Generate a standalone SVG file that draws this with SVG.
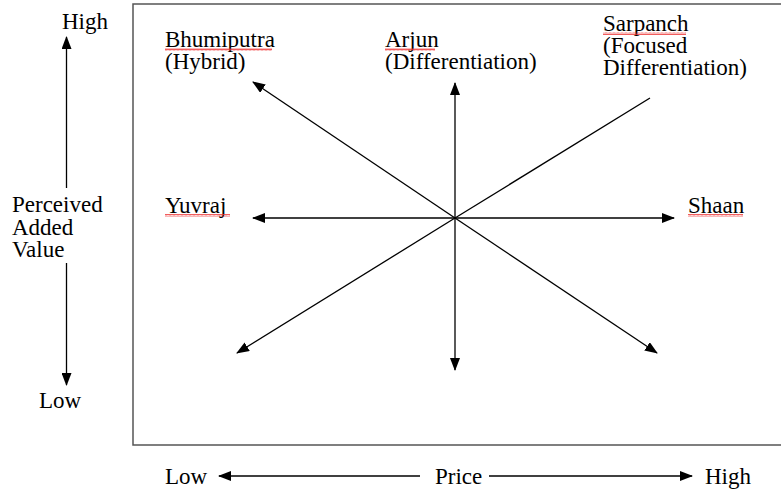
<svg xmlns="http://www.w3.org/2000/svg" width="781" height="494" viewBox="0 0 781 494">
<defs>
<marker id="ah" markerWidth="13" markerHeight="10" refX="12" refY="5" orient="auto" markerUnits="userSpaceOnUse">
<path d="M0,0 L13,5 L0,10 Z" fill="#000"/>
</marker>
<pattern id="sq" width="4" height="3" patternUnits="userSpaceOnUse">
<path d="M0,2.5 L1,0.5 L2,2.5 L3,0.5 L4,2.5" fill="none" stroke="#e33" stroke-width="0.8"/>
</pattern>
</defs>
<style>
text{font-family:"Liberation Serif","Times New Roman",serif;font-size:23px;fill:#000}
.c{stroke:#000;stroke-width:1.3;fill:none}
.a{marker-end:url(#ah)}
.u{fill:url(#sq)}
</style>
<rect width="781" height="494" fill="#fff"/>
<rect x="133" y="4" width="660" height="441" fill="none" stroke="#555" stroke-width="1.5"/>
<g id="connectors">
<line class="c a" x1="66.5" y1="188" x2="66.5" y2="37"/>
<line class="c a" x1="66.5" y1="263" x2="66.5" y2="385"/>
<line class="c a" x1="455" y1="218" x2="455" y2="83"/>
<line class="c a" x1="455" y1="218" x2="455" y2="370"/>
<line class="c a" x1="455" y1="218" x2="253" y2="218"/>
<line class="c a" x1="455" y1="218" x2="674" y2="218"/>
<line class="c a" x1="455" y1="218" x2="253" y2="82"/>
<line class="c" x1="455" y1="218" x2="650" y2="98"/>
<line class="c a" x1="455" y1="218" x2="237" y2="353"/>
<line class="c a" x1="455" y1="218" x2="657" y2="353"/>
<line class="c a" x1="420" y1="476" x2="219" y2="476"/>
<line class="c a" x1="489" y1="476" x2="692" y2="476"/>
</g>
<g id="axis-y">
<text x="62" y="29">High</text>
<text x="12" y="212">Perceived</text>
<text x="12" y="235">Added</text>
<text x="12" y="257">Value</text>
<text x="39" y="408">Low</text>
</g>
<g id="axis-x">
<text x="165" y="484">Low</text>
<text x="435" y="484">Price</text>
<text x="705" y="484">High</text>
</g>
<g id="bhumiputra">
<text x="165" y="47">Bhumiputra</text>
<text x="165" y="69">(Hybrid)</text>
<rect class="u" x="165" y="48" width="107" height="3"/>
</g>
<g id="arjun">
<text x="385" y="47">Arjun</text>
<text x="385" y="69">(Differentiation)</text>
<rect class="u" x="385" y="48" width="50" height="3"/>
</g>
<g id="sarpanch">
<text x="603" y="31">Sarpanch</text>
<text x="603" y="53">(Focused</text>
<text x="603" y="75">Differentiation)</text>
<rect class="u" x="603" y="32" width="83" height="3"/>
</g>
<g id="yuvraj">
<text x="165" y="213">Yuvraj</text>
<rect class="u" x="165" y="214" width="65" height="3"/>
</g>
<g id="shaan">
<text x="688" y="213">Shaan</text>
<rect class="u" x="688" y="214" width="55" height="3"/>
</g>
</svg>
